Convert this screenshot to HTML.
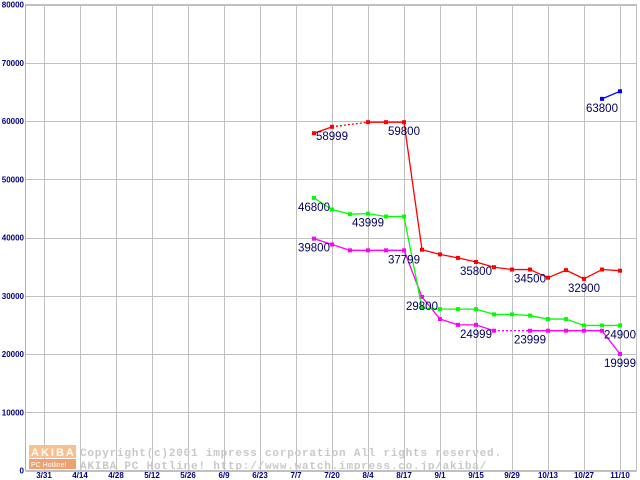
<!DOCTYPE html>
<html><head><meta charset="utf-8"><style>
html,body{margin:0;padding:0;background:#fff;}
svg{display:block;}
</style></head><body>
<svg id="chart" width="640" height="480" viewBox="0 0 640 480" xmlns="http://www.w3.org/2000/svg" font-family="Liberation Sans, sans-serif">
<g id="grid"></g>
<g id="yticks"></g>
<g id="xticks"></g>
<g id="watermark">
  <rect x="29" y="445" width="47" height="13" fill="#f8c090"/>
  <text x="31" y="456" font-size="11" fill="#fff" font-weight="bold" letter-spacing="2">AKIBA</text>
  <rect x="29" y="459" width="47" height="10" fill="#f0a070"/>
  <text x="31" y="467" font-size="7" fill="#fff">PC Hotline!</text>
  <text x="80" y="456" font-size="11" fill="#c8c8c8" font-weight="bold" font-family="Liberation Mono, monospace" letter-spacing="0.8">Copyright(c)2001 impress corporation All rights reserved.</text>
  <text x="80" y="469" font-size="11" fill="#c8c8c8" font-weight="bold" font-family="Liberation Mono, monospace" letter-spacing="0.8">AKIBA PC Hotline!  http://www.watch.impress.co.jp/akiba/</text>
</g>
<g id="series"></g>
<g id="labels"></g>
</svg>
<script>
const xLabels = ["3/31","4/14","4/28","5/12","5/26","6/9","6/23","7/7","7/20","8/4","8/17","9/1","9/15","9/29","10/13","10/27","11/10"];
const yTicks = [0,10000,20000,30000,40000,50000,60000,70000,80000];
// weekly index: 0 = 3/31 ; nulls are gaps (drawn dotted)
const redStart = 15;
const redValues = [57900,58999,null,59800,59800,59800,37900,37100,36500,35800,34900,34500,34500,33100,34400,32900,34500,34300];
const greenStart = 15;
const greenValues = [46800,44800,43999,44100,43600,43600,27900,27700,27700,27700,26800,26800,26600,26000,26000,24900,24900,24900];
const magentaStart = 15;
const magentaValues = [39800,38800,37799,37799,37799,37799,29800,26000,24999,24999,23999,null,23999,23999,23999,23999,23999,19999];
const blueStart = 31;
const blueValues = [63800,65100];
const labelText = ["58999","59800","63800","46800","43999","39800","37799","29800","35800","34500","32900","24999","23999","24900","19999"];
const labelSeries = ["red","red","blue","green","green","magenta","magenta","magenta","red","red","red","magenta","magenta","green","magenta"];
const labelPoint = [1,5,0,0,3,0,5,6,9,12,15,9,12,17,17];

const NS="http://www.w3.org/2000/svg";
const X0=44, DX=18, Y0=470.5, YS=58.25/10000;
const xs=i=>X0+i*DX;
const ys=v=>Y0-v*YS;
function mk(tag,attrs,parent){const e=document.createElementNS(NS,tag);for(const k in attrs)e.setAttribute(k,attrs[k]);parent.appendChild(e);return e;}
const grid=document.getElementById('grid');
const bg=mk('rect',{x:25.5,y:4.5,width:611,height:466,fill:'#fff',stroke:'#c0c0c0'},grid);


const yt=document.getElementById('yticks');
yTicks.forEach(v=>{
  const l=mk('line',{x1:25.5,x2:636.5,y1:Math.round(ys(v))+0.5,y2:Math.round(ys(v))+0.5,stroke:'#c0c0c0'},grid);
  
  
  const t=mk('text',{x:24,y:ys(v)+3,'text-anchor':'end','font-size':8,'font-weight':'bold',fill:'#000080'},yt);
  t.textContent=String(v);
  
  
});
const xt=document.getElementById('xticks');
xLabels.forEach((s,i)=>{
  const x=xs(i*2);
  const l=mk('line',{x1:x+0.5,x2:x+0.5,y1:4.5,y2:470.5,stroke:'#c0c0c0'},grid);
  
  
  const t=mk('text',{x:x,y:478,'text-anchor':'middle','font-size':8,'font-weight':'bold',fill:'#000080'},xt);
  t.textContent=s;
  
  
});
const axisL=mk('line',{x1:25.5,x2:25.5,y1:4.5,y2:470.5,stroke:'#b0b0b0'},grid);


const sg=document.getElementById('series');
const seriesDefs={red:[redStart,redValues,'#ff0000'],green:[greenStart,greenValues,'#00ff00'],magenta:[magentaStart,magentaValues,'#ff00ff'],blue:[blueStart,blueValues,'#0000ff']};
const order=['magenta','green','red','blue'];
order.forEach(name=>{
  const [st,vals,col]=seriesDefs[name];
  const g=mk('g',{},sg);
  
  
  let prev=null;
  vals.forEach((v,i)=>{
    if(v===null) return;
    if(prev){
      const dotted=(i-prev.i)>1;
      const seg=mk('line',{x1:xs(st+prev.i),y1:ys(prev.v),x2:xs(st+i),y2:ys(v),stroke:col,'stroke-width':1.3,'stroke-dasharray':dotted?'2,2':'none'},g);
      
      
    }
    prev={i,v};
  });
  vals.forEach((v,i)=>{
    if(v===null) return;
    const p=mk('rect',{x:xs(st+i)-2,y:ys(v)-2,width:4,height:4,fill:col},g);
    
    
  });
});
const lg=document.getElementById('labels');
labelText.forEach((s,k)=>{
  const [st,vals]=seriesDefs[labelSeries[k]];
  const idx=labelPoint[k];
  let v=vals[idx]; if(v===null)v=vals[idx-1];
  const x=xs(st+idx), y=ys(v);
  const t=mk('text',{x:x,y:y+13,'text-anchor':'middle','font-size':11.5,fill:'#000060'},lg);
  t.textContent=s;
  
  
});
</script>
</body></html>
